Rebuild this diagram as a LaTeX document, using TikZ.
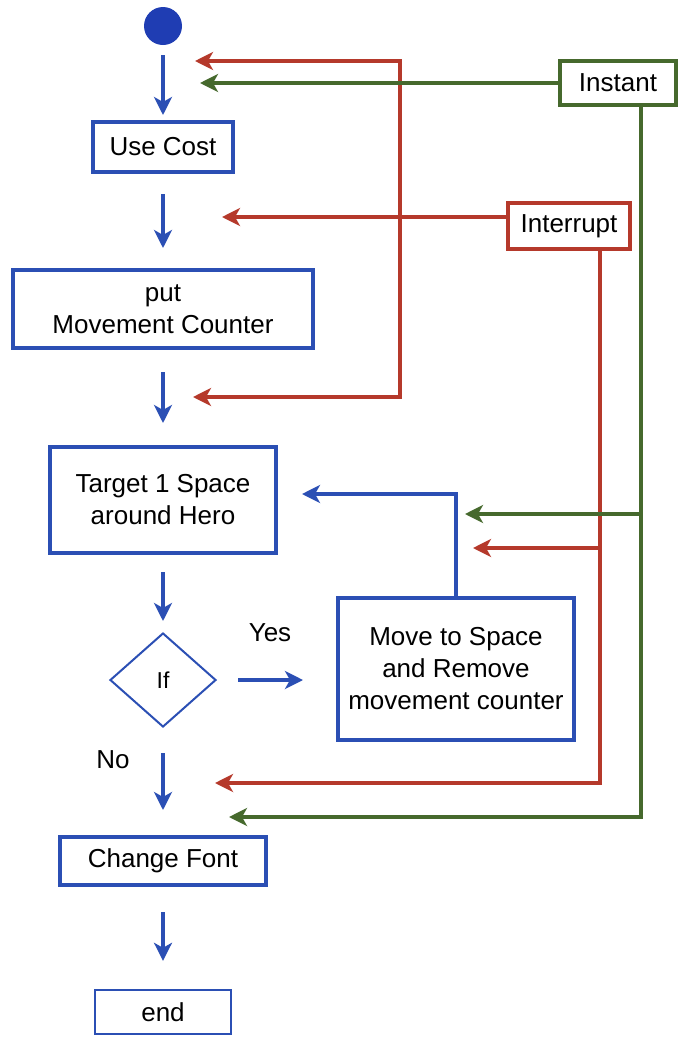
\documentclass[tikz,border=0pt]{standalone}
\usepackage{fontspec}
\setmainfont{Liberation Sans}
\usetikzlibrary{arrows.meta,shapes.geometric}
\definecolor{cflow}{HTML}{2B4FB4}
\definecolor{cstart}{HTML}{1F3DB3}
\definecolor{cintr}{HTML}{B5392B}
\definecolor{cinst}{HTML}{46692D}

\begin{document}
\begin{tikzpicture}[x=0.5pt, y=-0.5pt,
    >={Stealth[length=9pt, width=9pt, inset=2.5pt]},
    every node/.style={font=\fontsize{13}{16}\selectfont},
    box/.style={draw=cflow, line width=2pt, align=center, inner sep=2pt},
    flow/.style={->, draw=cflow, line width=1.7pt},
    intr/.style={->, draw=cintr, line width=1.8pt},
    inst/.style={->, draw=cinst, line width=1.8pt}]
  \useasboundingbox (0,0) rectangle (678,1039);

  % main column
  \node[circle, fill=cstart, minimum size=19pt, inner sep=0pt] (start) at (163,26) {};
  \node[box, minimum width=70pt, minimum height=25pt] (usecost) at (163,147) {Use Cost};
  \node[box, minimum width=150pt, minimum height=39pt] (put) at (163,309) {put\\Movement Counter};
  \node[box, minimum width=113pt, minimum height=53pt] (target) at (163,500) {Target 1 Space\\around Hero};
  \node[diamond, draw=cflow, line width=1pt, minimum width=53pt, minimum height=47pt,
        inner sep=0pt, font=\fontsize{11.5}{13}\selectfont] (if) at (163,680) {If};
  \node[box, minimum width=118pt, minimum height=71pt] (move) at (456,669)
        {Move to Space\\and Remove\\movement counter};
  \node[box, minimum width=103pt, minimum height=24pt] (change) at (163,861) {Change Font};
  \node[box, line width=1.2pt, minimum width=68pt, minimum height=22pt] (end) at (163,1012) {end};
  \node (yes) at (270,633) {Yes};
  \node (no) at (113,760) {No};

  % triggers
  \node[box, draw=cinst, minimum width=58pt, minimum height=22pt] (instant) at (618,83) {Instant};
  \node[box, draw=cintr, minimum width=61pt, minimum height=23pt] (interrupt) at (569,226) {Interrupt};

  \coordinate (r1) at (195,61);
  \coordinate (r2) at (222,217);
  \coordinate (rbend) at (400,397);
  \coordinate (r3) at (193,397);
  \coordinate (rj) at (600,548);
  \coordinate (r4) at (473,548);
  \coordinate (r5) at (215,783);
  \coordinate (g1) at (200,83);
  \coordinate (gj) at (641,514);
  \coordinate (g2) at (465,514);
  \coordinate (g3) at (229,817);

  \draw[flow, shorten <=5pt, shorten >=2.5pt] (start) -- (usecost);
  \draw[flow, shorten <=10pt, shorten >=10pt] (usecost) -- (put);
  \draw[flow, shorten <=11pt, shorten >=11pt] (put) -- (target);
  \draw[flow, shorten <=8.5pt, shorten >=5.5pt] (target) -- (if);
  \draw[flow, shorten <=10.5pt, shorten >=16.5pt] (if.east) -- (if.east -| move.west);
  \draw[flow, shorten <=12.5pt, shorten >=12.5pt] (if) -- (change);
  \draw[flow, shorten <=12.5pt, shorten >=14pt] (change) -- (end);
  \draw[flow, shorten >=12pt] (move.north) |- ([yshift=3pt]target.east);

  \draw[intr] ([yshift=4.5pt]interrupt.west) -- (r2);
  \draw[intr, <->] (r1) -| (rbend) -- (r3);
  \draw[intr] ([xshift=15.5pt]interrupt.south) |- (r5);
  \draw[intr] (rj) -- (r4);

  \draw[inst] (instant.west) -- (g1);
  \draw[inst] ([xshift=11.5pt]instant.south) |- (g3);
  \draw[inst] (gj) -- (g2);
\end{tikzpicture}
\end{document}
